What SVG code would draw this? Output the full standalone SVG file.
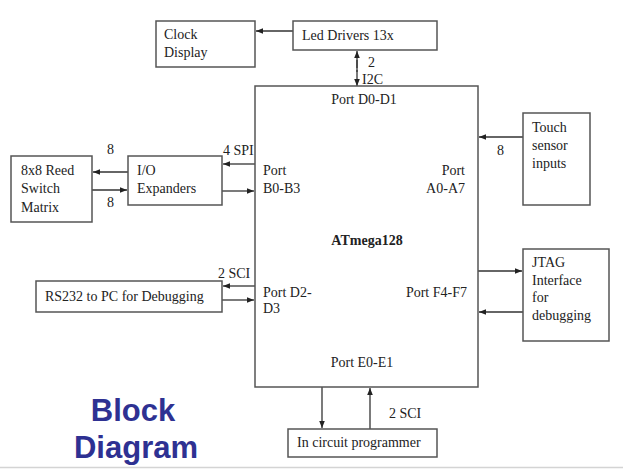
<svg xmlns="http://www.w3.org/2000/svg" width="623" height="472" viewBox="0 0 623 472">
<defs>
<marker id="ah" viewBox="0 0 10 10" refX="10" refY="5" markerWidth="7" markerHeight="7" orient="auto-start-reverse" markerUnits="userSpaceOnUse">
<path d="M0,1 L10,5 L0,9 z" fill="#222"/>
</marker>
<style>
.box{fill:#fff;stroke:#555;stroke-width:1.5}
.t{font-family:"Liberation Serif","Times New Roman",serif;font-size:14px;fill:#222}
.b{font-weight:bold}
.c{stroke:#333;stroke-width:1.3;fill:none;marker-end:url(#ah)}
.title{font-family:"Liberation Sans",Arial,sans-serif;font-weight:bold;font-size:31px;fill:#2e3192}
</style>
</defs>
<rect width="623" height="472" fill="#fff"/>
<line x1="0" y1="467.5" x2="623" y2="467.5" stroke="#d4d4d4" stroke-width="1.5"/>

<g id="connectors">
<line class="c" x1="293" y1="31" x2="256" y2="31"/>
<line class="c" x1="357" y1="68" x2="357" y2="51"/>
<line x1="357" y1="60" x2="357" y2="72" stroke="#333" stroke-width="1.3"/>
<line class="c" x1="357" y1="70" x2="357" y2="86"/>
<line class="c" x1="523" y1="137" x2="479" y2="137"/>
<line class="c" x1="255" y1="164" x2="223" y2="164"/>
<line class="c" x1="222" y1="191" x2="254" y2="191"/>
<line class="c" x1="128" y1="172" x2="93" y2="172"/>
<line class="c" x1="92" y1="190" x2="127" y2="190"/>
<line class="c" x1="255" y1="286" x2="223" y2="286"/>
<line class="c" x1="222" y1="300" x2="254" y2="300"/>
<line class="c" x1="478" y1="271" x2="522" y2="271"/>
<line class="c" x1="523" y1="312" x2="479" y2="312"/>
<line class="c" x1="322" y1="387" x2="322" y2="428"/>
<line class="c" x1="370" y1="429" x2="370" y2="388"/>
<text class="t" x="368" y="67">2</text>
<text class="t" x="362" y="84">I2C</text>
<text class="t" x="497" y="155">8</text>
<text class="t" x="223" y="155">4 SPI</text>
<text class="t" x="107" y="154">8</text>
<text class="t" x="107" y="207">8</text>
<text class="t" x="218" y="278">2 SCI</text>
<text class="t" x="389" y="418">2 SCI</text>
</g>

<g id="clock-display">
<rect class="box" x="156" y="21" width="99" height="46"/>
<text class="t" x="164" y="39">Clock</text>
<text class="t" x="164" y="57">Display</text>
</g>

<g id="led-drivers">
<rect class="box" x="293" y="21" width="144" height="29"/>
<text class="t" x="302" y="40">Led Drivers 13x</text>
</g>

<g id="atmega128">
<rect class="box" x="255" y="86" width="223" height="301"/>
<text class="t" x="364" y="104" text-anchor="middle">Port D0-D1</text>
<text class="t" x="263" y="175">Port</text>
<text class="t" x="263" y="193">B0-B3</text>
<text class="t" x="465" y="175" text-anchor="end">Port</text>
<text class="t" x="465" y="193" text-anchor="end">A0-A7</text>
<text class="t b" x="367" y="245" text-anchor="middle">ATmega128</text>
<text class="t" x="263" y="297">Port D2-</text>
<text class="t" x="263" y="313">D3</text>
<text class="t" x="467" y="297" text-anchor="end">Port F4-F7</text>
<text class="t" x="362" y="367" text-anchor="middle">Port E0-E1</text>
</g>

<g id="touch-sensor">
<rect class="box" x="523" y="113" width="67" height="92"/>
<text class="t" x="532" y="132">Touch</text>
<text class="t" x="532" y="150">sensor</text>
<text class="t" x="532" y="168">inputs</text>
</g>

<g id="reed-switch">
<rect class="box" x="11" y="156" width="81" height="66"/>
<text class="t" x="21" y="175">8x8 Reed</text>
<text class="t" x="21" y="193">Switch</text>
<text class="t" x="21" y="212">Matrix</text>
</g>

<g id="io-expanders">
<rect class="box" x="128" y="156" width="94" height="49"/>
<text class="t" x="137" y="175">I/O</text>
<text class="t" x="137" y="193">Expanders</text>
</g>

<g id="rs232">
<rect class="box" x="36" y="281" width="186" height="31"/>
<text class="t" x="45" y="301">RS232 to PC for Debugging</text>
</g>

<g id="jtag">
<rect class="box" x="523" y="249" width="86" height="92"/>
<text class="t" x="532" y="267">JTAG</text>
<text class="t" x="532" y="285">Interface</text>
<text class="t" x="532" y="302">for</text>
<text class="t" x="532" y="320">debugging</text>
</g>

<g id="programmer">
<rect class="box" x="288" y="429" width="149" height="28"/>
<text class="t" x="297" y="447">In circuit programmer</text>
</g>

<g id="title">
<text class="title" x="133" y="421" text-anchor="middle">Block</text>
<text class="title" x="136" y="458" text-anchor="middle">Diagram</text>
</g>
</svg>
